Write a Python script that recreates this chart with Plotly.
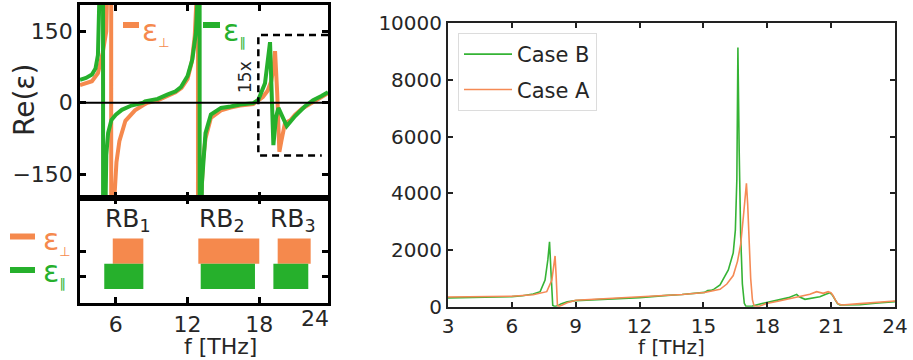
import plotly.graph_objects as go

W, H = 913, 360

# ---- Re(eps) spectra, upper left panel (values beyond 17.9 THz are shown 15x magnified)
F_PERP = [3.0, 3.5, 4.0, 4.5, 4.9, 5.2, 5.35, 5.5, 5.6, 5.62, 5.7, 5.8, 5.9, 6.05, 6.3, 6.8,
          7.6, 8.3, 8.65, 9.5, 10.3, 11.0, 11.5, 12.0, 12.35, 12.6, 12.75, 12.86, 12.88, 12.96,
          13.1, 13.3, 13.5, 13.95, 14.8, 15.6, 16.4, 17.5, 17.92, 18.3, 18.7, 19.0, 19.2, 19.32,
          19.5, 19.68, 19.85, 20.15, 20.6, 21.0, 21.6, 22.3, 23.0, 23.75]
EPS_PERP = [37, 41, 45, 62, 105, 150, 220, 500, 1500, -1500, -450, -280, -190, -125, -80, -38,
            -16, -5, 0, 5, 14, 22, 31, 50, 85, 140, 220, 1500, -1500, -450,
            -220, -120, -75, -32, -16, -10, -6, -3, 4, 12, 25, 45, 75, 108,
            20, -103, -80, -43, -37, -25, -12, -2, 8, 20]

F_PAR = [3.0, 3.5, 4.0, 4.3, 4.5, 4.65, 4.8, 4.92, 4.94, 5.02, 5.1, 5.2, 5.35, 5.63, 6.0, 6.5,
         7.3, 8.0, 8.3, 8.45, 9.5, 10.3, 11.0, 11.45, 12.0, 12.4, 12.7, 12.85, 13.0, 13.02,
         13.1, 13.2, 13.35, 13.5, 13.95, 14.8, 15.6, 16.4, 17.5, 17.92, 18.48, 18.75, 18.9,
         19.05, 19.18, 19.4, 19.6, 20.3, 21.0, 21.8, 22.5, 23.2, 23.75]
EPS_PAR = [48, 52, 59, 72, 100, 190, 400, 1500, -1500, -400, -180, -110, -64, -36, -25, -15,
           -6, -2, 0, 3, 8, 17, 24, 33, 56, 91, 147, 230, 1500, -1500,
           -400, -170, -100, -64, -25, -11, -8, -4, -1, 6, 41, 90, 127,
           10, -89, -30, -11, -49, -28, -8, 5, 14, 22]

# ---- Reststrahlen bands, lower left panel [THz]
RB_NAMES = ["RB<sub>1</sub>", "RB<sub>2</sub>", "RB<sub>3</sub>"]
RB_PERP_START = [5.74, 12.90, 19.54]
RB_PERP_END = [8.30, 18.00, 22.30]
RB_PAR_START = [5.03, 13.10, 19.18]
RB_PAR_END = [8.30, 17.64, 22.10]

# ---- right panel spectra
F_CASE_B = [3.0, 4.0, 5.0, 6.0, 6.5, 7.0, 7.33, 7.56, 7.69, 7.77, 7.84, 7.92, 8.0, 8.15, 8.3,
            8.6, 9.0, 10.0, 11.0, 12.0, 13.3, 14.0, 15.05, 15.2, 15.35, 15.5, 15.78, 16.17,
            16.4, 16.5, 16.57, 16.62, 16.68, 16.75, 16.83, 16.92, 17.0, 17.3, 17.66, 18.5,
            19.0, 19.38, 19.5, 19.77, 20.1, 20.47, 20.75, 20.94, 21.05, 21.18, 21.3, 21.41,
            22.35, 23.2, 24.0]
CASE_B = [310, 320, 335, 355, 385, 450, 530, 940, 1650, 2290, 1200, 50, 10, 30, 100,
          170, 215, 255, 285, 320, 400, 430, 505, 570, 575, 620, 766, 1300,
          1900, 2700, 4500, 9150, 5500, 2500, 800, 120, 10, 20, 95, 220,
          320, 437, 350, 260, 300, 353, 440, 494, 420, 236, 110, 60,
          70, 130, 180]

F_CASE_A = [3.0, 4.0, 5.0, 6.0, 7.0, 7.4, 7.64, 7.88, 7.96, 8.03, 8.08, 8.14, 8.22, 8.35, 8.6,
            9.0, 10.0, 11.0, 12.0, 13.3, 14.0, 15.05, 15.78, 16.1, 16.4, 16.6, 16.75, 16.88,
            16.97, 17.02, 17.08, 17.15, 17.22, 17.3, 17.38, 17.6, 17.97, 18.5, 19.0, 19.38,
            20.0, 20.32, 20.63, 20.86, 21.0, 21.1, 21.2, 21.33, 21.5, 22.35, 23.2, 24.0]
CASE_A = [340, 345, 355, 370, 420, 480, 530, 940, 1410, 1790, 1100, 50, 10, 60, 140,
          230, 270, 300, 330, 405, 430, 500, 614, 800, 1100, 1600, 2200, 3200,
          4000, 4350, 3600, 2200, 1000, 250, 30, 10, 113, 190, 270, 353,
          437, 530, 470, 530, 490, 380, 230, 100, 60, 110, 160, 200]

X_TICKS_RIGHT = [3, 6, 9, 12, 15, 18, 21, 24]
Y_TICKS_RIGHT = [0, 2000, 4000, 6000, 8000, 10000]

ORANGE = "#f5894d"
GREEN = "#26b02c"
ORANGE_THIN = "#f58a55"
GREEN_THIN = "#35b335"
TXT = "#262626"
FONT = "DejaVu Sans"


def px(p):
    return p / W


def py(p):
    return 1 - p / H


fig = go.Figure()

fig.add_trace(go.Scatter(x=F_PERP, y=EPS_PERP, mode="lines", line=dict(color=ORANGE, width=4),
                         xaxis="x", yaxis="y", showlegend=False, hoverinfo="skip"))
fig.add_trace(go.Scatter(x=F_PAR, y=EPS_PAR, mode="lines", line=dict(color=GREEN, width=4),
                         xaxis="x", yaxis="y", showlegend=False, hoverinfo="skip"))

fig.add_trace(go.Bar(orientation="h", y=[2] * len(RB_PERP_START), base=RB_PERP_START,
                     x=[e - s for s, e in zip(RB_PERP_START, RB_PERP_END)], width=1,
                     marker=dict(color=ORANGE, line=dict(width=0)),
                     xaxis="x2", yaxis="y2", showlegend=False, hoverinfo="skip"))
fig.add_trace(go.Bar(orientation="h", y=[1] * len(RB_PAR_START), base=RB_PAR_START,
                     x=[e - s for s, e in zip(RB_PAR_START, RB_PAR_END)], width=1,
                     marker=dict(color=GREEN, line=dict(width=0)),
                     xaxis="x2", yaxis="y2", showlegend=False, hoverinfo="skip"))

fig.add_trace(go.Scatter(x=F_CASE_B, y=CASE_B, mode="lines", name="Case B",
                         line=dict(color=GREEN_THIN, width=1.6), legendgroup="b",
                         xaxis="x3", yaxis="y3"))
fig.add_trace(go.Scatter(x=F_CASE_A, y=CASE_A, mode="lines", name="Case A",
                         line=dict(color=ORANGE_THIN, width=1.6), legendgroup="a",
                         xaxis="x3", yaxis="y3"))

frame_left = dict(showline=True, linewidth=2.5, linecolor="black", mirror="ticks",
                  ticks="inside", ticklen=6, tickwidth=2.5, tickcolor="black",
                  showgrid=False, zeroline=False, automargin=False,
                  tickfont=dict(family=FONT, size=22, color=TXT))
frame_right = dict(showline=True, linewidth=2, linecolor="#222", mirror="ticks",
                   ticks="inside", ticklen=5, tickwidth=2, tickcolor="#222",
                   showgrid=False, zeroline=False, automargin=False,
                   tickfont=dict(family=FONT, size=20, color=TXT))

LEFT_DOM = [px(80), px(328)]
fig.update_layout(
    width=W, height=H, margin=dict(l=0, r=0, t=0, b=0, autoexpand=False),
    paper_bgcolor="white", plot_bgcolor="white",
    font=dict(family=FONT, color=TXT),
    barmode="overlay",
    xaxis=dict(domain=LEFT_DOM, anchor="y", range=[3, 23.75], tickvals=[6, 12, 18],
               showticklabels=False, **frame_left),
    yaxis=dict(domain=[py(198), py(5)], anchor="x", range=[-200, 205],
               tickvals=[-150, 0, 150], **frame_left),
    xaxis2=dict(domain=LEFT_DOM, anchor="y2", range=[3, 23.75], tickvals=[6, 12, 18],
                **frame_left),
    yaxis2=dict(domain=[py(303), py(198)], anchor="x2", range=[-0.05, 4.1],
                tickvals=[1, 2], showticklabels=False, **frame_left),
    xaxis3=dict(domain=[px(448), px(895)], anchor="y3", range=[3, 24], tickvals=X_TICKS_RIGHT,
                **frame_right),
    yaxis3=dict(domain=[py(306.7), py(23.3)], anchor="x3", range=[0, 10000],
                tickvals=Y_TICKS_RIGHT, ticktext=[str(v) for v in Y_TICKS_RIGHT],
                **frame_right),
    legend=dict(x=px(458), y=py(33), xanchor="left", yanchor="top",
                bgcolor="white", bordercolor="#dcdcdc", borderwidth=1,
                font=dict(family=FONT, size=21, color=TXT), itemwidth=48,
                tracegroupgap=5, traceorder="grouped"),
)

shapes = []
# zero line of the Re(eps) panel
shapes.append(dict(type="line", xref="x", yref="y", x0=3, x1=23.75, y0=0, y1=0,
                   line=dict(color="black", width=2)))
# dashed frame around the magnified region
BOX_F0, BOX_F1, BOX_F2 = 17.92, 23.75, 23.23
BOX_TOP, BOX_BOT = 142, -111
shapes.append(dict(type="path", xref="x", yref="y",
                   path=f"M {BOX_F1},{BOX_TOP} L {BOX_F0},{BOX_TOP} L {BOX_F0},{BOX_BOT} L {BOX_F2},{BOX_BOT}",
                   line=dict(color="black", width=2.5, dash="7px,5px")))
# legend-style dashes next to the eps labels
for x0, x1, y, c in [(123, 139, 25, ORANGE), (203, 220, 25, GREEN),
                     (10, 35, 236.5, ORANGE), (10, 35, 270, GREEN)]:
    shapes.append(dict(type="line", xref="paper", yref="paper", x0=px(x0), x1=px(x1),
                       y0=py(y), y1=py(y), line=dict(color=c, width=6)))
fig.update_layout(shapes=shapes)

ann = []
ann.append(dict(text="Re(ε)", xref="paper", yref="paper", x=px(24), y=py(100),
                xanchor="center", yanchor="middle",
                textangle=-90, showarrow=False, font=dict(family=FONT, size=28, color=TXT)))
ann.append(dict(text="15x", xref="paper", yref="paper", x=px(245), y=py(77),
                xanchor="center", yanchor="middle",
                textangle=-90, showarrow=False, font=dict(family=FONT, size=17, color=TXT)))
ann.append(dict(text="24", xref="paper", yref="paper", x=px(331), y=py(318), xanchor="right",
                yanchor="middle", showarrow=False, font=dict(family=FONT, size=22, color=TXT)))
# axis titles
ann.append(dict(text="f [THz]", xref="paper", yref="paper", x=px(220), y=py(346),
                xanchor="center", yanchor="middle", showarrow=False,
                font=dict(family=FONT, size=22, color=TXT)))
ann.append(dict(text="f [THz]", xref="paper", yref="paper", x=px(671), y=py(347),
                xanchor="center", yanchor="middle", showarrow=False,
                font=dict(family=FONT, size=20, color=TXT)))

EPS_PERP_LABEL = "ε<sub><span style='font-size:13px'>⊥</span></sub>"
EPS_PAR_LABEL = "ε<sub><span style='font-size:13px'>∥</span></sub>"
for x, y, t, c in [(140, 31, EPS_PERP_LABEL, ORANGE), (221, 31, EPS_PAR_LABEL, GREEN),
                   (41, 241, EPS_PERP_LABEL, ORANGE), (41, 272, EPS_PAR_LABEL, GREEN)]:
    ann.append(dict(text=t, xref="paper", yref="paper", x=px(x), y=py(y), xanchor="left",
                    yanchor="middle", showarrow=False, font=dict(family=FONT, size=30, color=c)))

RB_POS = [7.0, 14.9, 20.8]
for name, f in zip(RB_NAMES, RB_POS):
    ann.append(dict(text=name, xref="x2", yref="y2", x=f, y=3.25, showarrow=False,
                    font=dict(family=FONT, size=25, color=TXT)))
fig.update_layout(annotations=ann)

fig.write_html("out.html")
